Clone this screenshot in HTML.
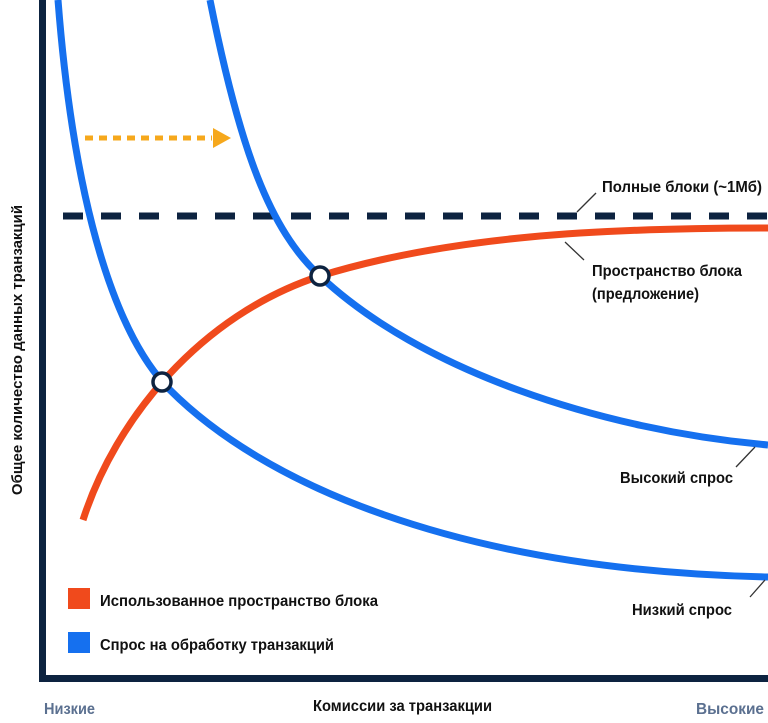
<!DOCTYPE html>
<html><head><meta charset="utf-8"><style>body{margin:0;background:#fff}svg{display:block}text{font-family:"Liberation Sans",sans-serif;font-weight:bold}</style></head><body>
<svg width="768" height="723" viewBox="0 0 768 723" xmlns="http://www.w3.org/2000/svg">
<rect x="39" y="0" width="7" height="681" fill="#0d2340"/>
<rect x="39" y="675" width="729" height="7" fill="#0d2340"/>
<line x1="63" y1="216" x2="768" y2="216" stroke="#0d2340" stroke-width="7" stroke-dasharray="20,18"/>
<path d="M58,0 C75,220 120,340 170,390 C260,480 450,570 768,577" fill="none" stroke="#1570ef" stroke-width="7"/>
<path d="M210,0 C240,150 270,230 320,276 C420,370 600,430 768,445" fill="none" stroke="#1570ef" stroke-width="7"/>
<path d="M83,520 C115,420 200,315 320,276 C450,236 600,228 768,228" fill="none" stroke="#f04a1c" stroke-width="7"/>
<line x1="85" y1="138" x2="212" y2="138" stroke="#f6a81c" stroke-width="5" stroke-dasharray="8,6"/>
<polygon points="213,128 231,138 213,148" fill="#f6a81c"/>
<circle cx="162" cy="382" r="9" fill="#fff" stroke="#0d2340" stroke-width="3.5"/>
<circle cx="320" cy="276" r="9" fill="#fff" stroke="#0d2340" stroke-width="3.5"/>
<g stroke="#333" stroke-width="1.3">
<line x1="577" y1="212" x2="596" y2="193"/>
<line x1="565" y1="242" x2="584" y2="260"/>
<line x1="755" y1="447" x2="736" y2="467"/>
<line x1="765" y1="580" x2="750" y2="597"/>
</g>
<g font-size="16" fill="#111">
<text x="602" y="192" textLength="160" lengthAdjust="spacingAndGlyphs">Полные блоки (~1Мб)</text>
<text x="592" y="276" textLength="150" lengthAdjust="spacingAndGlyphs">Пространство блока</text>
<text x="592" y="299" textLength="107" lengthAdjust="spacingAndGlyphs">(предложение)</text>
<text x="620" y="483" textLength="113" lengthAdjust="spacingAndGlyphs">Высокий спрос</text>
<text x="632" y="615" textLength="100" lengthAdjust="spacingAndGlyphs">Низкий спрос</text>
<text x="100" y="606" textLength="278" lengthAdjust="spacingAndGlyphs">Использованное пространство блока</text>
<text x="100" y="650" textLength="234" lengthAdjust="spacingAndGlyphs">Спрос на обработку транзакций</text>
<text x="313" y="711" textLength="179" lengthAdjust="spacingAndGlyphs">Комиссии за транзакции</text>
<text transform="translate(22,350) rotate(-90)" text-anchor="middle" font-size="15">Общее количество данных транзакций</text>
</g>
<rect x="68" y="588" width="22" height="21" fill="#f04a1c"/>
<rect x="68" y="632" width="22" height="21" fill="#1570ef"/>
<g font-size="16" fill="#5b7090">
<text x="44" y="714" textLength="51" lengthAdjust="spacingAndGlyphs">Низкие</text>
<text x="696" y="714" textLength="68" lengthAdjust="spacingAndGlyphs">Высокие</text>
</g>
</svg>
</body></html>
